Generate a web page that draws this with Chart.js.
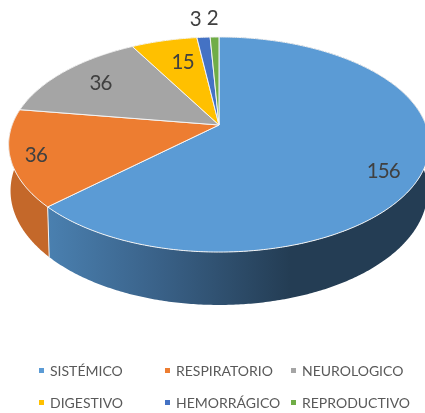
<!DOCTYPE html>
<html lang="es">
  <head>
    <meta charset="UTF-8" />
    <title>Pie 3D</title>
    <script src="https://cdn.jsdelivr.net/npm/chart.js"></script>
    <style>
      html,
      body {
        margin: 0;
        padding: 0;
        width: 100%;
        height: 100%;
        overflow: hidden;
        background-color: #fff;
      }
      canvas#pie {
        display: block;
        width: 425px;
        height: 413px;
        filter: blur(0.35px);
      }
    </style>
  </head>
  <body>
    <canvas id="pie" width="425" height="413"></canvas>
    <script>
      const categories = ["SISTÉMICO", "RESPIRATORIO", "NEUROLOGICO", "DIGESTIVO", "HEMORRÁGICO", "REPRODUCTIVO"];
      const values = [156, 36, 36, 15, 3, 2];
      const colors = ["#5B9BD5", "#ED7D31", "#A5A5A5", "#FFC000", "#4472C4", "#70AD47"];

      // where each number sits relative to its slice (pixels off the 0.8 radius point)
      const labelNudge = [[3, 12], [-18, 4], [7, 2], [9, 7], [-11, -33], [-3, -34]];
      const legendCols = [39, 165, 291];
      const legendRows = [371, 403];

      // perspective of the tilted disc, in units of the pie radius
      const persp = 0.1814;
      const top3d = { a: 1.655, b: 0.832, dy: 0 };
      const low3d = { a: 1.64, b: 0.883, dy: 0.361 };

      function project(arc, face, angle, r) {
        const th = angle + Math.PI / 2;
        const u = Math.sin(th) * r;
        const v = Math.cos(th) * r;
        const w = 1 + persp * v;
        const R = arc.outerRadius;
        return [arc.x + (face.a * R * u) / w, arc.y + face.dy * R - (face.b * R * v) / w];
      }

      function tracePart(ctx, arc, face, from, to) {
        const steps = Math.max(2, Math.ceil(Math.abs(to - from) / 0.01));
        for (let i = 0; i <= steps; i++) {
          const p = project(arc, face, from + ((to - from) * i) / steps, 1);
          ctx.lineTo(p[0], p[1]);
        }
      }

      const pie3d = {
        id: "pie3d",
        beforeDatasetsDraw(chart) {
          const ctx = chart.ctx;
          const arcs = chart.getDatasetMeta(0).data;
          ctx.save();
          ctx.lineJoin = "round";

          // side wall first, the top faces cover what is behind
          arcs.forEach((arc, i) => {
            ctx.beginPath();
            tracePart(ctx, arc, low3d, arc.startAngle, arc.endAngle);
            tracePart(ctx, arc, top3d, arc.endAngle, arc.startAngle);
            ctx.closePath();
            if (i === 0) {
              const g = ctx.createLinearGradient(47, 0, 290, 0);
              g.addColorStop(0, "#4A80B0");
              g.addColorStop(0.45, "#3A6289");
              g.addColorStop(1, "#243D54");
              ctx.fillStyle = g;
            } else if (i === 1) {
              ctx.fillStyle = "#C4682A";
            } else {
              ctx.fillStyle = colors[i];
            }
            ctx.fill();
          });

          // seam between the two visible wall pieces
          const seam = arcs[0].endAngle;
          const a = project(arcs[0], top3d, seam, 1);
          const b = project(arcs[0], low3d, seam, 1);
          ctx.strokeStyle = "#F2F2F2";
          ctx.lineWidth = 1;
          ctx.beginPath();
          ctx.moveTo(a[0], a[1]);
          ctx.lineTo(b[0], b[1]);
          ctx.stroke();

          // top faces
          arcs.forEach((arc, i) => {
            ctx.beginPath();
            ctx.moveTo(arc.x, arc.y);
            tracePart(ctx, arc, top3d, arc.startAngle, arc.endAngle);
            ctx.closePath();
            ctx.fillStyle = colors[i];
            ctx.fill();
            ctx.strokeStyle = "#F4F4F4";
            ctx.lineWidth = 1;
            ctx.stroke();
          });

          // numbers
          ctx.font = "20.5px Lato";
          ctx.letterSpacing = "-0.8px";
          ctx.fillStyle = "#404040";
          ctx.textAlign = "center";
          ctx.textBaseline = "middle";
          arcs.forEach((arc, i) => {
            const p = project(arc, top3d, (arc.startAngle + arc.endAngle) / 2, 0.8);
            ctx.fillText(String(values[i]), p[0] + labelNudge[i][0], p[1] + labelNudge[i][1]);
          });

          // legend, three columns by two rows
          ctx.font = "14px Lato";
          ctx.letterSpacing = "0px";
          ctx.textAlign = "left";
          categories.forEach((name, i) => {
            const x = legendCols[i % 3];
            const y = legendRows[Math.floor(i / 3)];
            ctx.fillStyle = colors[i];
            ctx.fillRect(x, y - 3, 5, 5);
            ctx.fillStyle = "#595959";
            ctx.fillText(name, x + 11, y);
          });
          ctx.restore();
          return false;
        },
      };

      new Chart(document.getElementById("pie").getContext("2d"), {
        type: "pie",
        data: {
          labels: categories,
          datasets: [{ data: values, backgroundColor: colors, borderWidth: 0 }],
        },
        options: {
          responsive: false,
          animation: false,
          layout: { padding: { left: 13, bottom: 163 } },
          plugins: { legend: { display: false }, tooltip: { enabled: false } },
        },
        plugins: [pie3d],
      });
    </script>
  </body>
</html>
